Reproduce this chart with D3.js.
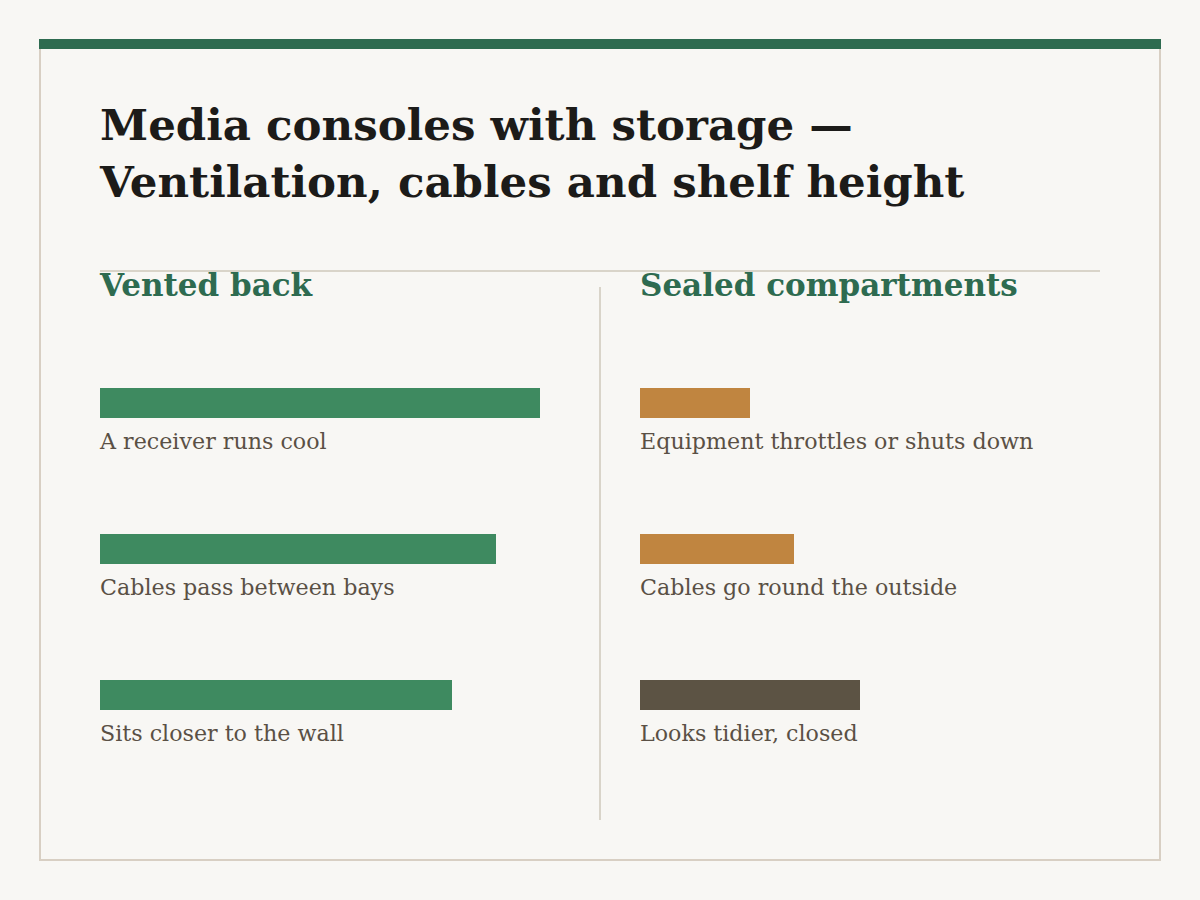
<!DOCTYPE html>
<html>
<head>
<meta charset="utf-8">
<script src="https://cdn.jsdelivr.net/npm/d3@7"></script>
<style>
  body { margin: 0; background: #f8f7f4; }
  text { font-family: Georgia, "DejaVu Serif", serif; }
</style>
</head>
<body>
<div id="chart"></div>
<script>
var w = 1200, h = 900;

// data
var titleLines = ["Media consoles with storage \u2014", "Ventilation, cables and shelf height"];
var columns = ["Vented back", "Sealed compartments"];
var ventedLabels = ["A receiver runs cool", "Cables pass between bays", "Sits closer to the wall"];
var ventedValues = [100, 90, 80];
var sealedLabels = ["Equipment throttles or shuts down", "Cables go round the outside", "Looks tidier, closed"];
var sealedValues = [25, 35, 50];
var sealedColors = ["#c08540", "#c08540", "#5c5344"];

var svg = d3.select("#chart").append("svg")
    .attr("width", w)
    .attr("height", h);

svg.append("rect").attr("width", w).attr("height", h).attr("fill", "#f8f7f4");

// frame and top band
svg.append("rect")
    .attr("x", 40).attr("y", 40).attr("width", 1120).attr("height", 820)
    .attr("fill", "none").attr("stroke", "#d8cfc3").attr("stroke-width", 2);
svg.append("rect")
    .attr("x", 39).attr("y", 39).attr("width", 1122).attr("height", 10)
    .attr("fill", "#2e6b50");

// title
svg.selectAll(".title")
  .data(titleLines)
  .enter().append("text")
    .attr("class", "title")
    .attr("x", 100)
    .attr("y", function(d, i) { return 140 + i * 57; })
    .attr("font-size", 43.5)
    .attr("font-weight", "bold")
    .attr("fill", "#1c1b19")
    .text(function(d) { return d; });

// rules
svg.append("line")
    .attr("x1", 100).attr("x2", 1100).attr("y1", 271).attr("y2", 271)
    .attr("stroke", "#cfc8bb").attr("stroke-width", 1.5);
svg.append("line")
    .attr("x1", 600).attr("x2", 600).attr("y1", 287).attr("y2", 820)
    .attr("stroke", "#cfc8bb").attr("stroke-width", 1.5);

var x = d3.scaleLinear().domain([0, 100]).range([0, 440]);
var y = d3.scaleBand().domain(d3.range(3)).range([388, 826]);

var colX = [100, 640];

svg.selectAll(".colhead")
  .data(columns)
  .enter().append("text")
    .attr("class", "colhead")
    .attr("x", function(d, i) { return colX[i]; })
    .attr("y", 296)
    .attr("font-size", 31)
    .attr("font-weight", "bold")
    .attr("fill", "#2e6b50")
    .text(function(d) { return d; });

function drawColumn(cx, values, labels, colorFn) {
  var g = svg.append("g").attr("transform", "translate(" + cx + ",0)");
  g.selectAll(".bar")
    .data(values)
    .enter().append("rect")
      .attr("class", "bar")
      .attr("x", 0)
      .attr("y", function(d, i) { return y(i); })
      .attr("width", function(d) { return x(d); })
      .attr("height", 30)
      .attr("fill", colorFn);
  g.selectAll(".lbl")
    .data(labels)
    .enter().append("text")
      .attr("class", "lbl")
      .attr("x", 0)
      .attr("y", function(d, i) { return y(i) + 61; })
      .attr("font-size", 22.2)
      .attr("fill", "#5a5045")
      .text(function(d) { return d; });
}

drawColumn(colX[0], ventedValues, ventedLabels, function() { return "#3e8a60"; });
drawColumn(colX[1], sealedValues, sealedLabels, function(d, i) { return sealedColors[i]; });
</script>
</body>
</html>
